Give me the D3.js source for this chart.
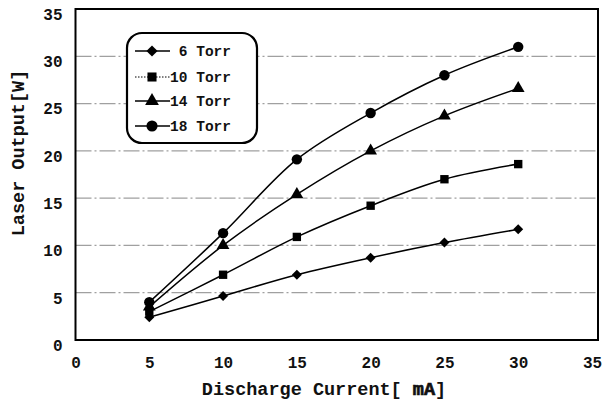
<!DOCTYPE html>
<html><head><meta charset="utf-8">
<script src="https://cdn.jsdelivr.net/npm/d3@7"></script>
<style>body{margin:0;background:#fff}svg{display:block}</style>
</head><body>
<svg id="c" width="611" height="404"></svg>
<script>
const current = [5, 10, 15, 20, 25, 30];
const torr6  = [2.4, 4.65, 6.9, 8.7, 10.3, 11.7];
const torr10 = [3.0, 6.9, 10.9, 14.2, 17.0, 18.6];
const torr14 = [3.5, 10.0, 15.4, 20.0, 23.7, 26.6];
const torr18 = [4.0, 11.3, 19.1, 24.0, 28.0, 31.0];
const seriesNames = ["6 Torr", "10 Torr", "14 Torr", "18 Torr"];
const xTicks = [0, 5, 10, 15, 20, 25, 30, 35];
const yTicks = [0, 5, 10, 15, 20, 25, 30, 35];

const series = [
  {name: seriesNames[0], values: torr6, sym: d3.symbolSquare, rot: 45, size: 50, dash: null},
  {name: seriesNames[1], values: torr10, sym: d3.symbolSquare, rot: 0, size: 70, dash: "1.5,1.5"},
  {name: seriesNames[2], values: torr14, sym: d3.symbolTriangle, rot: 0, size: 70, dash: null},
  {name: seriesNames[3], values: torr18, sym: d3.symbolCircle, rot: 0, size: 85, dash: null}
];

const svg = d3.select("#c");
const font = "'Liberation Mono','DejaVu Sans Mono',monospace";
const x = d3.scaleLinear().domain([0, 35]).range([75.5, 592]);
const y = d3.scaleLinear().domain([0, 35]).range([340, 9]);
const plotRight = 598;

// gridlines
svg.append("g").selectAll("line").data(yTicks.filter(v => v > 0 && v < 35)).join("line")
  .attr("x1", x(0)).attr("x2", plotRight)
  .attr("y1", d => y(d)).attr("y2", d => y(d))
  .attr("stroke", "#a0a0a0").attr("stroke-width", 1.2)
  .attr("stroke-dasharray", "16,3,2,3");

// frame
svg.append("rect").attr("x", x(0)).attr("y", y(35))
  .attr("width", plotRight - x(0)).attr("height", y(0) - y(35))
  .attr("fill", "none").attr("stroke", "#000").attr("stroke-width", 2);

// axes (labels only, via d3 axes)
const yAxis = svg.append("g").attr("transform", `translate(${x(0)},0)`)
  .call(d3.axisLeft(y).tickValues(yTicks).tickSize(0).tickPadding(13));
const xAxis = svg.append("g").attr("transform", `translate(0,${y(0)})`)
  .call(d3.axisBottom(x).tickValues(xTicks).tickSize(0).tickPadding(17));
[yAxis, xAxis].forEach(a => {
  a.select(".domain").remove();
  a.selectAll("text").attr("font-family", font).attr("font-size", 16)
    .attr("font-weight", "bold").attr("fill", "#111");
});
yAxis.selectAll("text").attr("dy", "0.65em");

// axis titles
const xt = svg.append("text").attr("x", 324).attr("y", 395).attr("text-anchor", "middle")
  .attr("font-family", font).attr("font-size", 18.5).attr("font-weight", "bold").attr("fill", "#111");
xt.append("tspan").text("Discharge Current[ ");
xt.append("tspan").attr("stroke", "#111").attr("stroke-width", 0.7).text("mA");
xt.append("tspan").text("]");
svg.append("text").attr("transform", "translate(24,153) rotate(-90)").attr("text-anchor", "middle")
  .attr("font-family", font).attr("font-size", 18.5).attr("font-weight", "bold").attr("fill", "#111")
  .text("Laser Output[W]");

// lines
const line = d3.line().x((d, i) => x(current[i])).y(d => y(d)).curve(d3.curveCatmullRom.alpha(0.5));
series.forEach(s => {
  svg.append("path").attr("d", line(s.values)).attr("fill", "none")
    .attr("stroke", "#000").attr("stroke-width", 1.5);
  svg.append("g").selectAll("path").data(s.values).join("path")
    .attr("transform", (d, i) => `translate(${x(current[i])},${y(d)}) rotate(${s.rot})`)
    .attr("d", d3.symbol().type(s.sym).size(s.size)).attr("fill", "#000");
});

// legend
const lg = svg.append("g");
lg.append("rect").attr("x", 127).attr("y", 33).attr("width", 130).attr("height", 110)
  .attr("rx", 15).attr("ry", 15).attr("fill", "#fff").attr("stroke", "#000").attr("stroke-width", 2.2);
const rowY = [51, 77, 101, 126];
series.forEach((s, i) => {
  const g = lg.append("g").attr("transform", `translate(0,${rowY[i]})`);
  g.append("line").attr("x1", 135).attr("x2", 170).attr("y1", 0).attr("y2", 0)
    .attr("stroke", "#000").attr("stroke-width", s.dash ? 1 : 1.6)
    .attr("stroke-dasharray", s.dash);
  g.append("path").attr("transform", `translate(152,0) rotate(${s.rot})`)
    .attr("d", d3.symbol().type(s.sym).size(s.size + 12)).attr("fill", "#000");
  g.append("text").attr("x", 231).attr("y", 0).attr("dy", "0.35em").attr("text-anchor", "end")
    .attr("font-family", font).attr("font-size", 14.5).attr("font-weight", "bold").attr("fill", "#111")
    .text(s.name);
});
</script>
</body></html>
